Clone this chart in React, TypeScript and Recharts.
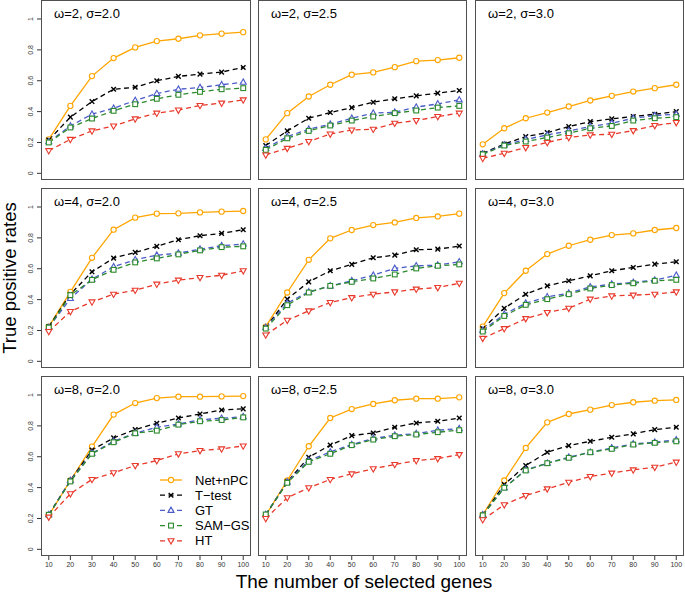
import React from "react";
import { LineChart, Line, XAxis, YAxis, Legend } from "recharts";

const genes = [10, 20, 30, 40, 50, 60, 70, 80, 90, 100];
const yTicks = [0, 0.2, 0.4, 0.6, 0.8, 1];
const panelLabels = [
  "ω=2, σ=2.0", "ω=2, σ=2.5", "ω=2, σ=3.0",
  "ω=4, σ=2.0", "ω=4, σ=2.5", "ω=4, σ=3.0",
  "ω=8, σ=2.0", "ω=8, σ=2.5", "ω=8, σ=3.0",
];

const netNPC = [
  [0.22, 0.437, 0.63, 0.747, 0.816, 0.857, 0.872, 0.894, 0.905, 0.915],
  [0.22, 0.39, 0.498, 0.574, 0.639, 0.654, 0.688, 0.727, 0.734, 0.749],
  [0.188, 0.292, 0.357, 0.394, 0.433, 0.472, 0.502, 0.53, 0.552, 0.574],
  [0.225, 0.45, 0.671, 0.853, 0.931, 0.957, 0.959, 0.965, 0.97, 0.974],
  [0.225, 0.446, 0.658, 0.797, 0.851, 0.883, 0.9, 0.929, 0.939, 0.957],
  [0.225, 0.442, 0.587, 0.695, 0.749, 0.788, 0.818, 0.829, 0.851, 0.864],
  [0.22, 0.446, 0.666, 0.873, 0.948, 0.98, 0.989, 0.989, 0.991, 0.993],
  [0.22, 0.446, 0.668, 0.851, 0.909, 0.942, 0.966, 0.976, 0.976, 0.985],
  [0.224, 0.446, 0.657, 0.823, 0.877, 0.905, 0.935, 0.953, 0.963, 0.968],
];
const tTest = [
  [0.216, 0.364, 0.465, 0.545, 0.558, 0.6, 0.628, 0.643, 0.656, 0.686],
  [0.18, 0.275, 0.357, 0.394, 0.426, 0.461, 0.483, 0.502, 0.52, 0.537],
  [0.13, 0.19, 0.238, 0.264, 0.303, 0.335, 0.353, 0.368, 0.383, 0.4],
  [0.225, 0.435, 0.58, 0.669, 0.706, 0.745, 0.788, 0.814, 0.829, 0.853],
  [0.219, 0.403, 0.515, 0.587, 0.628, 0.671, 0.688, 0.723, 0.727, 0.747],
  [0.212, 0.344, 0.435, 0.489, 0.522, 0.554, 0.587, 0.608, 0.63, 0.645],
  [0.226, 0.446, 0.644, 0.722, 0.776, 0.817, 0.851, 0.877, 0.903, 0.91],
  [0.222, 0.437, 0.597, 0.675, 0.737, 0.754, 0.791, 0.819, 0.83, 0.851],
  [0.22, 0.42, 0.543, 0.629, 0.672, 0.7, 0.726, 0.748, 0.776, 0.791],
];
const gtVals = [
  [0.205, 0.307, 0.383, 0.422, 0.472, 0.517, 0.545, 0.556, 0.574, 0.59],
  [0.162, 0.238, 0.286, 0.318, 0.357, 0.39, 0.396, 0.429, 0.45, 0.476],
  [0.126, 0.184, 0.22, 0.249, 0.275, 0.303, 0.325, 0.357, 0.374, 0.383],
  [0.219, 0.407, 0.532, 0.613, 0.658, 0.688, 0.701, 0.727, 0.749, 0.76],
  [0.219, 0.377, 0.45, 0.489, 0.522, 0.558, 0.602, 0.619, 0.623, 0.645],
  [0.201, 0.305, 0.377, 0.418, 0.442, 0.483, 0.5, 0.511, 0.526, 0.558],
  [0.224, 0.446, 0.623, 0.7, 0.752, 0.791, 0.812, 0.84, 0.849, 0.86],
  [0.226, 0.437, 0.575, 0.631, 0.679, 0.718, 0.739, 0.75, 0.772, 0.782],
  [0.224, 0.399, 0.515, 0.558, 0.597, 0.629, 0.657, 0.683, 0.694, 0.709],
];
const samGS = [
  [0.2, 0.297, 0.355, 0.405, 0.448, 0.483, 0.509, 0.528, 0.545, 0.552],
  [0.152, 0.227, 0.275, 0.31, 0.342, 0.368, 0.39, 0.407, 0.426, 0.437],
  [0.123, 0.18, 0.206, 0.232, 0.26, 0.292, 0.307, 0.342, 0.357, 0.364],
  [0.219, 0.429, 0.528, 0.593, 0.641, 0.667, 0.693, 0.719, 0.74, 0.745],
  [0.212, 0.364, 0.446, 0.489, 0.515, 0.537, 0.563, 0.602, 0.619, 0.628],
  [0.193, 0.294, 0.366, 0.403, 0.435, 0.472, 0.494, 0.506, 0.522, 0.528],
  [0.224, 0.44, 0.619, 0.694, 0.752, 0.769, 0.808, 0.83, 0.838, 0.855],
  [0.226, 0.431, 0.567, 0.619, 0.675, 0.711, 0.733, 0.744, 0.759, 0.772],
  [0.22, 0.399, 0.511, 0.558, 0.593, 0.629, 0.651, 0.679, 0.69, 0.7],
];
const htVals = [
  [0.147, 0.22, 0.275, 0.307, 0.353, 0.39, 0.41, 0.44, 0.455, 0.476],
  [0.119, 0.162, 0.206, 0.255, 0.281, 0.286, 0.325, 0.342, 0.368, 0.39],
  [0.097, 0.13, 0.167, 0.2, 0.232, 0.249, 0.253, 0.277, 0.31, 0.329],
  [0.193, 0.323, 0.385, 0.435, 0.461, 0.5, 0.526, 0.543, 0.558, 0.587],
  [0.171, 0.266, 0.327, 0.381, 0.413, 0.435, 0.45, 0.468, 0.478, 0.506],
  [0.149, 0.212, 0.277, 0.316, 0.344, 0.403, 0.424, 0.429, 0.435, 0.45],
  [0.209, 0.36, 0.453, 0.496, 0.543, 0.575, 0.619, 0.64, 0.651, 0.67],
  [0.2, 0.334, 0.399, 0.453, 0.489, 0.522, 0.55, 0.575, 0.588, 0.614],
  [0.192, 0.289, 0.349, 0.392, 0.435, 0.472, 0.494, 0.515, 0.532, 0.565],
];

type Method = { key: string; name: string; color: string; dash?: string; shape: string; values: number[][] };
const methods: Method[] = [
  { key: "net", name: "Net+nPC", color: "#FFA500", shape: "circle", values: netNPC },
  { key: "tt", name: "T−test", color: "#000000", dash: "5 3.5", shape: "x", values: tTest },
  { key: "gt", name: "GT", color: "#4B5BC8", dash: "5 3.5", shape: "tri", values: gtVals },
  { key: "sam", name: "SAM−GS", color: "#2B8A2B", dash: "5 3.5", shape: "sq", values: samGS },
  { key: "ht", name: "HT", color: "#E8392B", dash: "5 3.5", shape: "tridown", values: htVals },
];

const FONT = "'Liberation Sans', Arial, Helvetica, sans-serif";
const colX = [41, 258, 475];
const colW = [210, 209, 209];
const rowY = [0, 188, 376];
const PH = 180;
const YW = 41;
const XH = 26;

function Marker({ shape, cx, cy, color }: { shape: string; cx: number; cy: number; color: string }) {
  if (cx == null || cy == null || isNaN(cx) || isNaN(cy)) return null;
  const sw = 1.1;
  if (shape === "circle") return <circle cx={cx} cy={cy} r={2.6} fill="#fff" stroke={color} strokeWidth={sw} />;
  if (shape === "x") {
    const d = 2.3;
    return (
      <g stroke={color} strokeWidth={1.4}>
        <line x1={cx - d} y1={cy - d} x2={cx + d} y2={cy + d} />
        <line x1={cx - d} y1={cy + d} x2={cx + d} y2={cy - d} />
      </g>
    );
  }
  if (shape === "tri")
    return <polygon points={`${cx},${cy - 3.3} ${cx - 3},${cy + 2} ${cx + 3},${cy + 2}`} fill="#fff" stroke={color} strokeWidth={sw} />;
  if (shape === "tridown")
    return <polygon points={`${cx},${cy + 3.3} ${cx - 3},${cy - 2} ${cx + 3},${cy - 2}`} fill="#fff" stroke={color} strokeWidth={sw} />;
  return <rect x={cx - 2.4} y={cy - 2.4} width={4.8} height={4.8} fill="#fff" stroke={color} strokeWidth={sw} />;
}

function YTick(props: any) {
  const { x, y, payload } = props;
  return (
    <text x={x} y={y} transform={`rotate(-90, ${x}, ${y})`} textAnchor="middle" fontSize={7} fill="#333" fontFamily={FONT}>
      {String(payload.value)}
    </text>
  );
}

function LegendBox() {
  return (
    <svg width={100} height={82} style={{ overflow: "visible" }}>
      {methods.map((m, i) => {
        const y = 8 + i * 15.2;
        return (
          <g key={m.key}>
            <line x1={5} x2={27} y1={y} y2={y} stroke={m.color} strokeWidth={1.3} strokeDasharray={m.dash ? "5 3.5" : undefined} />
            <Marker shape={m.shape} cx={16} cy={y} color={m.color} />
            <text x={40} y={y} dominantBaseline="central" fontSize={13} fill="#000" fontFamily={FONT}>
              {m.name}
            </text>
          </g>
        );
      })}
    </svg>
  );
}

function Panel({ p }: { p: number }) {
  const r = Math.floor(p / 3);
  const c = p % 3;
  const showY = c === 0;
  const showX = r === 2;
  const plotL = colX[c];
  const plotT = rowY[r];
  const W = colW[c];
  const chartL = showY ? plotL - YW : plotL;
  const chartW = W + (showY ? YW : 0);
  const chartH = PH + (showX ? XH : 0);
  const rows = genes.map((g, i) => {
    const o: any = { genes: g };
    methods.forEach((m) => (o[m.key] = m.values[p][i]));
    return o;
  });
  return (
    <>
      <div style={{ position: "absolute", left: chartL, top: plotT }}>
        <LineChart width={chartW} height={chartH} data={rows} margin={{ top: 0, right: 0, bottom: 0, left: 0 }}>
          <XAxis
            dataKey="genes"
            type="number"
            domain={[6.4, 103.6]}
            ticks={genes}
            interval={0}
            hide={!showX}
            height={XH}
            tickSize={4}
            tickMargin={2}
            axisLine={false}
            tick={{ fontSize: 7, fill: "#333", fontFamily: FONT }}
            tickLine={{ stroke: "#333" }}
            allowDataOverflow
          />
          <YAxis
            type="number"
            domain={[-0.0432, 1.1232]}
            ticks={yTicks}
            interval={0}
            hide={!showY}
            width={YW}
            tickSize={4}
            tickMargin={4}
            axisLine={false}
            tick={<YTick />}
            tickLine={{ stroke: "#333" }}
            allowDataOverflow
          />
          {methods.map((m) => (
            <Line
              key={m.key}
              dataKey={m.key}
              name={m.name}
              stroke={m.color}
              strokeWidth={1.3}
              strokeDasharray={m.dash}
              isAnimationActive={false}
              activeDot={false}
              dot={(props: any) => (
                <Marker key={`${m.key}-${props.index}`} shape={m.shape} cx={props.cx} cy={props.cy} color={m.color} />
              )}
            />
          ))}
          {p === 6 && (
            <Legend
              layout="horizontal"
              verticalAlign="middle"
              align="center"
              content={() => <LegendBox />}
              wrapperStyle={{ left: 155, top: 96, width: 100, height: 82 }}
            />
          )}
        </LineChart>
      </div>
      <div
        style={{
          position: "absolute",
          left: plotL,
          top: plotT,
          width: W,
          height: PH,
          border: "1.4px solid #505050",
          boxSizing: "border-box",
          pointerEvents: "none",
        }}
      />
      <div
        style={{
          position: "absolute",
          left: plotL + 13,
          top: plotT + 6,
          fontFamily: FONT,
          fontSize: 13,
          lineHeight: "16px",
          color: "#000",
          whiteSpace: "nowrap",
        }}
      >
        {panelLabels[p]}
      </div>
    </>
  );
}

export default function App() {
  return (
    <div style={{ position: "absolute", left: 0, top: 0, width: 685, height: 592, background: "#fff", overflow: "hidden" }}>
      {panelLabels.map((_, p) => (
        <Panel key={p} p={p} />
      ))}
      <svg width={685} height={592} style={{ position: "absolute", left: 0, top: 0, pointerEvents: "none" }}>
        <text x={364} y={588} textAnchor="middle" fontSize={19} fontFamily={FONT} fill="#000">
          The number of selected genes
        </text>
        <text x={16} y={278} transform="rotate(-90, 16, 278)" textAnchor="middle" fontSize={18.5} fontFamily={FONT} fill="#000">
          True positive rates
        </text>
      </svg>
    </div>
  );
}
